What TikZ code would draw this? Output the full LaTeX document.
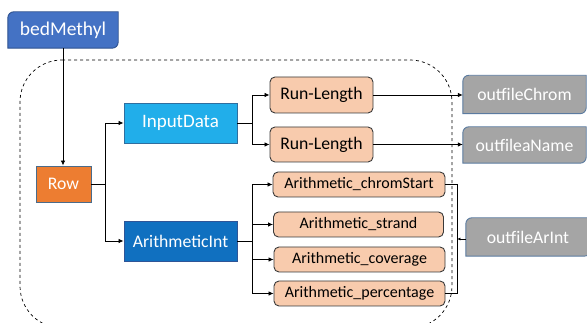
\documentclass[tikz,border=0pt]{standalone}
\usepackage{fontspec}
\setmainfont{Carlito}
\usetikzlibrary{arrows.meta,backgrounds,calc}
\definecolor{bedfill}{HTML}{4472C4}
\definecolor{bedline}{HTML}{2F528F}
\definecolor{rowfill}{HTML}{ED7D31}
\definecolor{rowline}{HTML}{4A6B8A}
\definecolor{inpfill}{HTML}{21AEEA}
\definecolor{inpline}{HTML}{2F6E9F}
\definecolor{arifill}{HTML}{1070C0}
\definecolor{ariline}{HTML}{2F5597}
\definecolor{rlfill}{HTML}{F8CBAD}
\definecolor{rlline}{HTML}{3A3A3A}
\definecolor{outfill}{HTML}{A5A5A5}
\definecolor{outline}{HTML}{5B7BA0}
\newcommand\diagshape[2]{%
  \begin{pgfonlayer}{background}
  \draw[#2] (#1.south west) -- ([yshift=-6pt]#1.north west)
    arc[start angle=180,end angle=90,radius=6pt] -- (#1.north east)
    -- ([yshift=6pt]#1.south east) arc[start angle=0,end angle=-90,radius=6pt] -- cycle;
  \end{pgfonlayer}}
\tikzset{
  big/.style={font=\fontsize{17.7}{20}\selectfont},
  bigger/.style={font=\fontsize{19.5}{22}\selectfont},
  small/.style={font=\fontsize{16}{19}\selectfont},
  plain/.style={inner sep=0pt,align=center},
  sq/.style={plain,big,draw,line width=0.9pt,text=white},
  rl/.style={plain,draw=rlline,fill=rlfill,line width=0.9pt,rounded corners=5pt,text=black},
  conn/.style={line width=0.8pt,black},
  arr/.style={conn,-{Latex[length=5pt,width=4.5pt]}},
}
\begin{document}
\begin{tikzpicture}[x=1pt,y=1pt]
\useasboundingbox (0,0) rectangle (587,323);
% dashed container
\draw[dashed,line width=0.7pt,rounded corners=42pt] (20,263) -- (452,263) -- (452,-5) -- (20,-5) -- cycle;

\node[plain,bigger,text=white,minimum width=110pt,minimum height=36pt] (bed) at (63,293) {bedMethyl};
\diagshape{bed}{fill=bedfill,draw=bedline,line width=0.9pt}

\node[sq,fill=rowfill,draw=rowline,minimum width=55pt,minimum height=36pt] (row) at (63.5,139) {Row};
\node[sq,font=\fontsize{19}{22}\selectfont,fill=inpfill,draw=inpline,minimum width=113pt,minimum height=40pt] (inp) at (180.5,200) {InputData};
\node[sq,fill=arifill,draw=ariline,minimum width=113pt,minimum height=40pt] (ari) at (180.5,82) {ArithmeticInt};

\node[rl,big,minimum width=103pt,minimum height=36pt] (rla) at (321.5,228) {Run-Length};
\node[rl,big,minimum width=103pt,minimum height=35pt] (rlb) at (321.5,178.5) {Run-Length};

\node[rl,small,minimum width=172pt,minimum height=25pt] (cs) at (359,138.5) {Arithmetic\_chromStart};
\node[rl,small,minimum width=170pt,minimum height=25pt] (st) at (358.5,98.5) {Arithmetic\_strand};
\node[rl,small,minimum width=171pt,minimum height=25pt] (cv) at (359.5,63.5) {Arithmetic\_coverage};
\node[rl,small,minimum width=171pt,minimum height=25pt] (pc) at (359.5,29.5) {Arithmetic\_percentage};

\node[plain,big,text=white,minimum width=123pt,minimum height=38pt] (oc) at (524.5,228.5) {outfileChrom};
\diagshape{oc}{fill=outfill,draw=outline,line width=0.9pt}
\node[plain,big,text=white,minimum width=123pt,minimum height=36pt] (on) at (524.5,178) {outfileaName};
\diagshape{on}{fill=outfill,draw=outline,line width=0.9pt}
\node[plain,big,text=white,minimum width=124pt,minimum height=38pt] (oa) at (528,86) {outfileArInt};
\diagshape{oa}{fill=outfill,draw=outline,line width=0.9pt}

% connectors
\draw[arr] (bed.south) -- (bed.south |- row.north);
\draw[arr] (row.east) -- ++(14,0) |- (inp.west);
\draw[arr] (row.east) -- ++(14,0) |- (ari.west);
\draw[arr] (inp.east) -- ++(15,0) |- (rla.west);
\draw[arr] (inp.east) -- ++(15,0) |- (rlb.west);
\draw[arr] (ari.east) -- ++(15,0) |- (cs.west);
\draw[arr] (ari.east) -- ++(15,0) |- (st.west);
\draw[arr] (ari.east) -- ++(15,0) |- (cv.west);
\draw[arr] (ari.east) -- ++(15,0) |- (pc.west);
\draw[arr] (rla.east) -- (oc.west |- rla.east);
\draw[arr] (rlb.east) -- (on.west |- rlb.east);
% bracket
\draw[conn,line width=0.7pt] (cs.east) -- ++(12,0) coordinate (bt) -- (bt |- pc.east) -- (pc.east);
\coordinate (bm) at ($(bt)!0.5!(bt |- pc.east)$);
\draw[conn,line width=0.7pt,-{Latex[length=3pt,width=3pt]}] (oa.west |- bm) -- (bm);
\end{tikzpicture}
\end{document}
